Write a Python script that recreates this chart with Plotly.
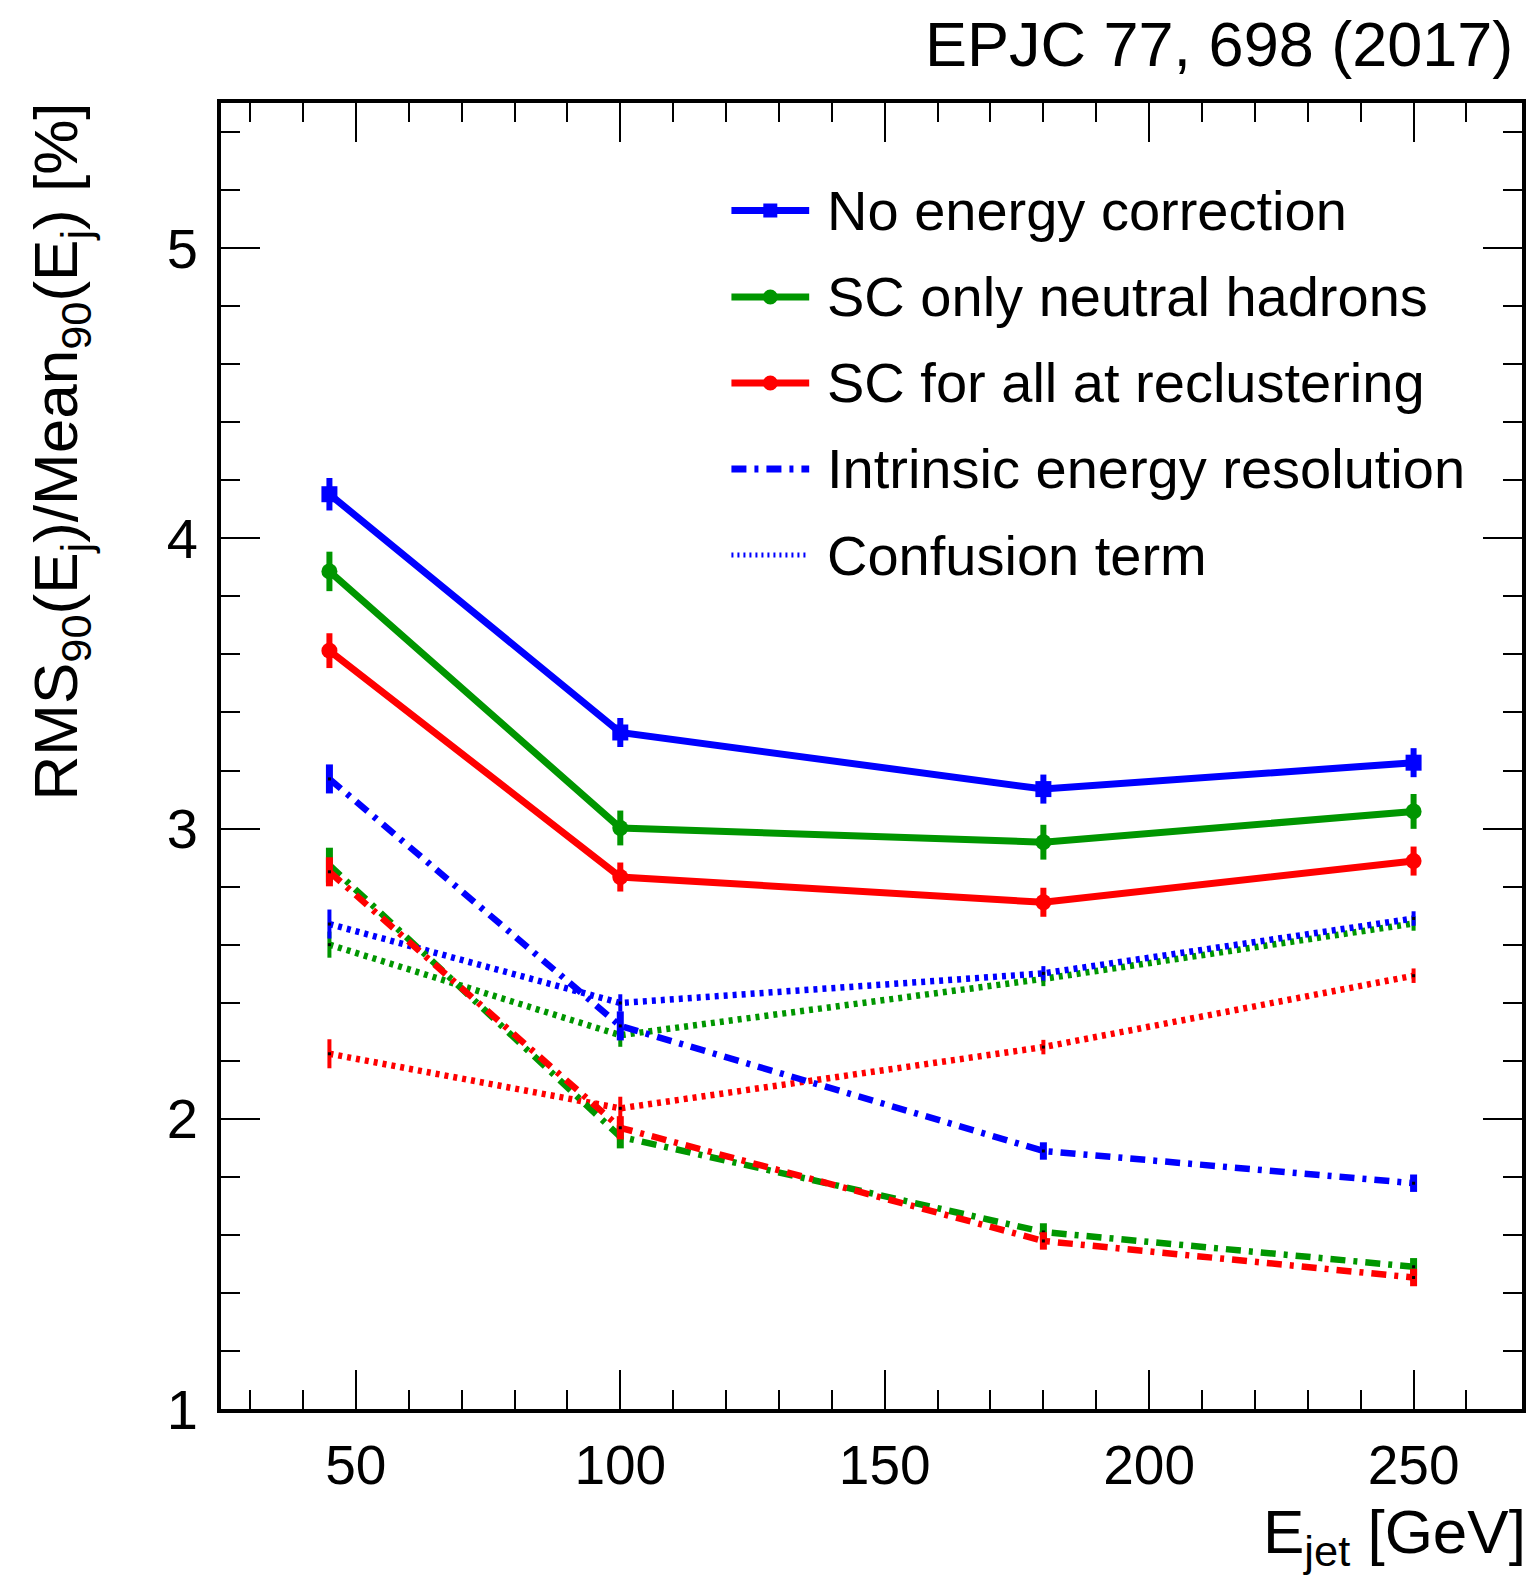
import plotly.graph_objects as go

# ---------------- data ----------------
energy = [45, 100, 180, 250]

no_corr = [4.152, 3.331, 3.136, 3.227]
no_corr_err = [0.056, 0.05, 0.05, 0.05]
sc_neutral = [3.886, 3.002, 2.953, 3.059]
sc_neutral_err = [0.068, 0.06, 0.06, 0.06]
sc_all = [3.613, 2.833, 2.746, 2.888]
sc_all_err = [0.06, 0.05, 0.05, 0.05]

intr_no = [3.171, 2.32, 1.889, 1.778]
intr_no_err = [0.05, 0.05, 0.03, 0.03]
intr_neutral = [2.874, 1.938, 1.610, 1.490]
intr_neutral_err = [0.06, 0.04, 0.03, 0.03]
intr_all = [2.851, 1.969, 1.579, 1.453]
intr_all_err = [0.05, 0.04, 0.03, 0.03]

conf_no = [2.671, 2.399, 2.501, 2.690]
conf_no_err = [0.05, 0.03, 0.025, 0.025]
conf_neutral = [2.600, 2.288, 2.482, 2.673]
conf_neutral_err = [0.045, 0.04, 0.025, 0.025]
conf_all = [2.224, 2.036, 2.247, 2.493]
conf_all_err = [0.05, 0.04, 0.025, 0.025]

legend_labels = ["No energy correction", "SC only neutral hadrons",
                 "SC for all at reclustering", "Intrinsic energy resolution",
                 "Confusion term"]

x_ticks = [50, 100, 150, 200, 250]
x_minor = [30, 40, 60, 70, 80, 90, 110, 120, 130, 140, 160, 170, 180, 190,
           210, 220, 230, 240, 260]
y_ticks = [1, 2, 3, 4, 5]

BLUE = "#0000ff"
GREEN = "#009600"
RED = "#ff0000"
FONT = "Liberation Sans, Arial, Helvetica, sans-serif"

DASHDOT = "15px,8px,4px,8px"
DOT = "4px,5px"

# ---------------- layout geometry ----------------
W, H = 1532, 1579
L, R, T, B = 221, 1526, 103, 1409


def px_x(p):
    return (p - L) / (R - L)


def px_y(p):
    return (B - p) / (B - T)


fig = go.Figure()


def add_series(y, err, color, dash, width, symbol=None, msize=0, ethick=6):
    marker = dict(size=msize, color=color, symbol=symbol) if symbol else dict(size=3, color="black", symbol="square")
    fig.add_trace(go.Scatter(
        x=energy, y=y, mode="lines+markers",
        line=dict(color=color, width=width, dash=dash),
        marker=marker,
        error_y=dict(type="data", array=err, thickness=ethick, width=0, color=color),
        showlegend=False, hoverinfo="skip",
    ))


# dotted (confusion term)
add_series(conf_all, conf_all_err, RED, DOT, 6.5, ethick=4)
add_series(conf_neutral, conf_neutral_err, GREEN, DOT, 6.5, ethick=4)
add_series(conf_no, conf_no_err, BLUE, DOT, 6.5, ethick=4)
# dash-dot (intrinsic)
add_series(intr_no, intr_no_err, BLUE, DASHDOT, 6.5, ethick=7)
add_series(intr_neutral, intr_neutral_err, GREEN, DASHDOT, 6.5, ethick=7)
add_series(intr_all, intr_all_err, RED, DASHDOT, 6.5, ethick=7)
# solid
add_series(sc_all, sc_all_err, RED, "solid", 7, symbol="circle", msize=16)
add_series(sc_neutral, sc_neutral_err, GREEN, "solid", 7, symbol="circle", msize=16)
add_series(no_corr, no_corr_err, BLUE, "solid", 7, symbol="square", msize=16)

# ---------------- legend (drawn manually) ----------------
leg_rows = [210.5, 297, 383, 469, 555]
leg_styles = [(BLUE, "solid", "square"), (GREEN, "solid", "circle"),
              (RED, "solid", "circle"), (BLUE, DASHDOT, None), (BLUE, "2px,4px", None)]
shapes = []
annotations = []
for label, row, (col, dash, sym) in zip(legend_labels, leg_rows, leg_styles):
    yy = px_y(row)
    lw = 7 if dash in ("solid", DASHDOT) else 5
    shapes.append(dict(type="line", xref="paper", yref="paper",
                       x0=px_x(733), x1=px_x(811), y0=yy, y1=yy,
                       line=dict(color=col, width=lw, dash=dash)))
    if sym == "square":
        shapes.append(dict(type="rect", xref="paper", yref="paper",
                           xsizemode="pixel", ysizemode="pixel",
                           xanchor=px_x(772), yanchor=yy,
                           x0=-7, x1=7, y0=-7, y1=7,
                           fillcolor=col, line=dict(width=0)))
    elif sym == "circle":
        shapes.append(dict(type="circle", xref="paper", yref="paper",
                           xsizemode="pixel", ysizemode="pixel",
                           xanchor=px_x(772), yanchor=yy,
                           x0=-7.5, x1=7.5, y0=-7.5, y1=7.5,
                           fillcolor=col, line=dict(width=0)))
    annotations.append(dict(text=label, xref="paper", yref="paper",
                            x=px_x(827), y=yy, xanchor="left", yanchor="middle",
                            showarrow=False, font=dict(size=56, color="black", family=FONT)))

# title / axis titles
annotations.append(dict(text="EPJC 77, 698 (2017)", xref="paper", yref="paper",
                        x=px_x(1519), y=px_y(44), xanchor="right", yanchor="middle",
                        showarrow=False, font=dict(size=63, color="black", family=FONT)))
annotations.append(dict(text="E<sub>jet</sub> [GeV]", xref="paper", yref="paper",
                        x=px_x(1532), y=px_y(1536), xanchor="right", yanchor="middle",
                        showarrow=False, font=dict(size=62, color="black", family=FONT)))
annotations.append(dict(text="RMS<sub>90</sub>(E<sub>j</sub>)/Mean<sub>90</sub>(E<sub>j</sub>) [%]",
                        xref="paper", yref="paper", textangle=-90,
                        x=px_x(60), y=px_y(100), xanchor="center", yanchor="top",
                        showarrow=False, font=dict(size=62, color="black", family=FONT)))

axis_common = dict(
    showline=True, linewidth=4, linecolor="black", mirror="allticks",
    ticks="inside", ticklen=39, tickwidth=2, tickcolor="black",
    showgrid=False, zeroline=False,
)

fig.update_xaxes(range=[24.5, 270.5], tickvals=x_ticks, ticktext=[str(v) for v in x_ticks],
                 minor=dict(tickvals=x_minor, ticks="inside", ticklen=19, tickwidth=2,
                            tickcolor="black", showgrid=False),
                 tickfont=dict(size=55, color="black", family=FONT),
                 ticklabelstandoff=5, **axis_common)
fig.update_yaxes(range=[1, 5.5], tickvals=y_ticks, ticktext=[str(v) for v in y_ticks],
                 minor=dict(dtick=0.2, tick0=0, ticks="inside", ticklen=19, tickwidth=2,
                            tickcolor="black", showgrid=False),
                 tickfont=dict(size=56, color="black", family=FONT),
                 ticklabelstandoff=8, **axis_common)

fig.update_layout(
    width=W, height=H,
    margin=dict(l=L, r=W - R, t=T, b=H - B),
    plot_bgcolor="white", paper_bgcolor="white",
    font=dict(family=FONT, color="black"),
    shapes=shapes, annotations=annotations,
    showlegend=False,
)

fig.write_html("out.html")
